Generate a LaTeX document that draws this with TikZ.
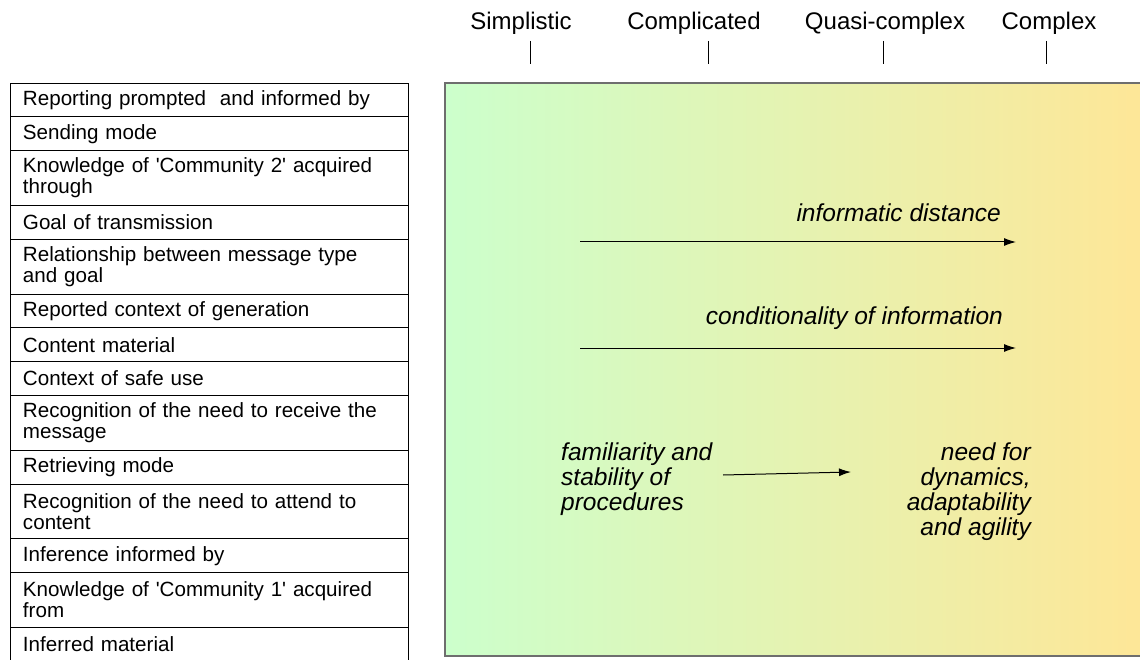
\documentclass[tikz,border=0pt]{standalone}
\usepackage{fontspec}
\setmainfont{Liberation Sans}
\usepackage{xcolor}
\usetikzlibrary{arrows.meta}
\usetikzlibrary{positioning}
\definecolor{PaleGreen}{RGB}{204,255,204}
\definecolor{PaleGold}{RGB}{255,230,150}
\definecolor{FrameGray}{RGB}{110,110,110}

\begin{document}
\begin{tikzpicture}[x=1pt,y=-1pt,
    row/.style={draw, line width=0.8pt, outer sep=0pt, inner xsep=13pt, inner ysep=0pt,
        minimum width=398pt, minimum height=33.8pt, text width=372pt, align=left,
        font=\fontsize{20.6}{21}\selectfont},
    tallrow/.style={row, minimum height=54.8pt},
    level/.style={font=\fontsize{24}{26}\selectfont, inner sep=0pt},
    trend/.style={font=\fontsize{24.5}{25}\selectfont\itshape, inner sep=0pt},
    push/.style={line width=1pt, -{Latex[length=12pt,width=8pt]}}]
\useasboundingbox (0,0) rectangle (1140,660);
% gradient panel
\draw[FrameGray, line width=1.5pt, left color=PaleGreen, right color=PaleGold]
    (445,83) rectangle (1160,656);
% complexity scale
\foreach \lx/\tx/\name/\txt in {521/530/simp/Simplistic, 694/708/compl/Complicated,
        885/883/quasi/Quasi-complex, 1049/1046/cplx/Complex}{
    \node[level] (\name) at (\lx,23) {\txt};
    \draw[line width=0.8pt] (\tx,41) -- (\tx,64);
}
% list of aspects
\node[row, anchor=north west] (r1) at (10,83) {Reporting prompted\ \ and informed by};
\node[row, below=0pt of r1] (r2) {Sending mode};
\node[tallrow, below=0pt of r2] (r3) {Knowledge of \textquotesingle Community 2\textquotesingle\ acquired\\through};
\node[row, below=0pt of r3] (r4) {Goal of transmission};
\node[tallrow, below=0pt of r4] (r5) {Relationship between message type\\and goal};
\node[row, below=0pt of r5] (r6) {Reported context of generation};
\node[row, below=0pt of r6] (r7) {Content material};
\node[row, below=0pt of r7] (r8) {Context of safe use};
\node[tallrow, below=0pt of r8] (r9) {Recognition of the need to receive the\\message};
\node[row, below=0pt of r9] (r10) {Retrieving mode};
\node[tallrow, below=0pt of r10] (r11) {Recognition of the need to attend to\\content};
\node[row, below=0pt of r11] (r12) {Inference informed by};
\node[tallrow, below=0pt of r12] (r13) {Knowledge of \textquotesingle Community 1\textquotesingle\ acquired\\from};
\node[row, below=0pt of r13] (r14) {Inferred material};
% trends
\node[trend, anchor=east] (dist) at (1001,213) {informatic distance};
\coordinate (d0) at (580,242);
\coordinate (d1) at (1016,242);
\draw[push] (d0) -- (d1);
\node[trend, anchor=east] (cond) at (1003,318) {conditionality of information};
\coordinate (c0) at (580,348);
\coordinate (c1) at (1016,348);
\draw[push] (c0) -- (c1);
\node[trend, anchor=north west, align=left] (fam) at (561,443)
    {familiarity and\\stability of\\procedures};
\node[trend, anchor=north east, align=right] (need) at (1031,443)
    {need for\\dynamics,\\adaptability\\and agility};
\coordinate (f0) at (723,475);
\coordinate (f1) at (851,472);
\draw[push] (f0) -- (f1);
\end{tikzpicture}
\end{document}
